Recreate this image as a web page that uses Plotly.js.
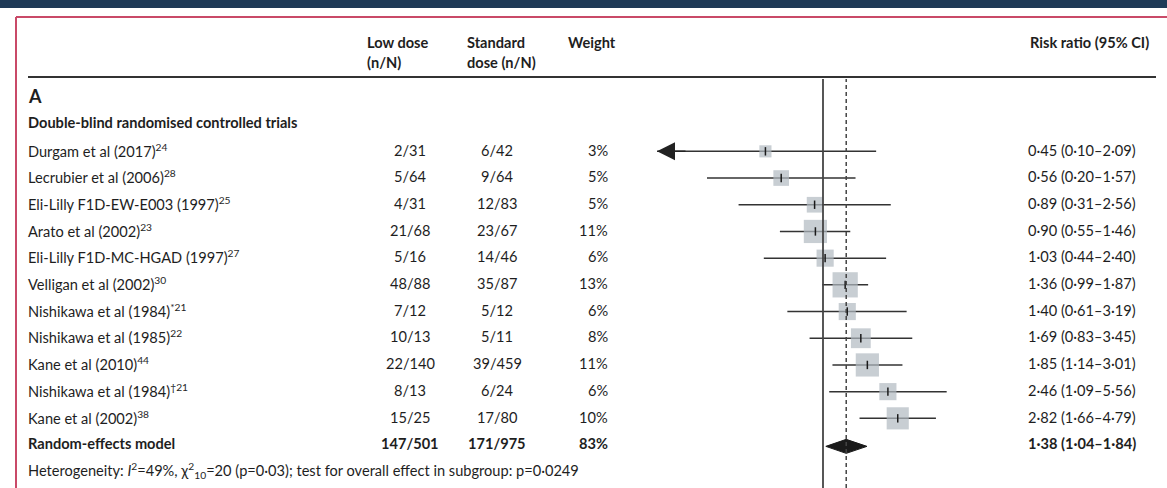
<!DOCTYPE html>
<html>
<head>
<meta charset="utf-8">
<script src="https://cdn.plot.ly/plotly-3.0.1.min.js"></script>
<style>
html,body{margin:0;padding:0;background:#fff;}
#chart{width:1167px;height:488px;}
</style>
</head>
<body>
<div id="chart"></div>
<script>
// ---- data ----
const studies = ['Durgam et al (2017)','Lecrubier et al (2006)','Eli-Lilly F1D-EW-E003 (1997)','Arato et al (2002)','Eli-Lilly F1D-MC-HGAD (1997)','Velligan et al (2002)','Nishikawa et al (1984)','Nishikawa et al (1985)','Kane et al (2010)','Nishikawa et al (1984)','Kane et al (2002)'];
const refs = ['24','28','25','23','27','30','*21','22','44','†21','38'];
const lowDose = ['2/31','5/64','4/31','21/68','5/16','48/88','7/12','10/13','22/140','8/13','15/25'];
const stdDose = ['6/42','9/64','12/83','23/67','14/46','35/87','5/12','5/11','39/459','6/24','17/80'];
const weights = [3,5,5,11,6,13,6,8,11,6,10];
const rr = [0.45,0.56,0.89,0.90,1.03,1.36,1.40,1.69,1.85,2.46,2.82];
const ciLo = [0.10,0.20,0.31,0.55,0.44,0.99,0.61,0.83,1.14,1.09,1.66];
const ciHi = [2.09,1.57,2.56,1.46,2.40,1.87,3.19,3.45,3.01,5.56,4.79];
const pooledLabel = 'Random-effects model';
const pooledLow = '147/501';
const pooledStd = '171/975';
const pooledWeight = 83;
const pooledRR = 1.38, pooledLo = 1.04, pooledHi = 1.84;
const heterogeneity = 'Heterogeneity: <i>I</i><sup>2</sup>=49%, χ<sup>2</sup><sub>10</sub>=20 (p=0·03); test for overall effect in subgroup: p=0·0249';
const headers = {low:['Low dose','(n/N)'], std:['Standard','dose (n/N)'], w:'Weight', rr:'Risk ratio (95% CI)'};
const sectionLabel = 'A';
const groupLabel = 'Double-blind randomised controlled trials';

// ---- layout constants (pixels) ----
const W = 1167, H = 488;
const row0 = 150, rowH = 26.7;     // pixel y of first study row, row spacing
const x1px = 823, decade = 166;    // pixel of RR=1, pixels per decade
const FONT = 'Lato, "Open Sans", sans-serif';
const FS = 14.6;
const TXT = '#1e1e1e';
const fmt = v => v.toFixed(2).replace('.', '·');
const px = p => p / W;
const rowOf = p => (p - row0) / rowH;

const n = studies.length;
const rows = studies.map((_, i) => i);
const pooledRow = n;
const hetRow = n + 1;

// ---- traces ----
const traces = [];
const lx = [], ly = [];
for (let i = 0; i < n; i++) { lx.push(ciLo[i], ciHi[i], null); ly.push(rows[i] + 0.05, rows[i] + 0.05, null); }
traces.push({type:'scatter', mode:'lines', x:lx, y:ly, line:{color:'#333', width:1.5}, hoverinfo:'skip', showlegend:false});
traces.push({type:'scatter', mode:'markers', x:rr, y:rows.map(r => r + 0.05),
  marker:{symbol:'square', size:weights.map(w => 7 * Math.sqrt(w)), color:'#b0b9c0', line:{width:0}},
  hoverinfo:'skip', showlegend:false});
traces.push({type:'scatter', mode:'markers', x:rr, y:rows.map(r => r + 0.05),
  marker:{symbol:'line-ns', size:6, line:{color:'#1a1a1a', width:1.5}}, hoverinfo:'skip', showlegend:false});
const dh = 7 / rowH;
traces.push({type:'scatter', mode:'lines', fill:'toself', fillcolor:'#1a1a1a',
  x:[pooledLo, pooledRR, pooledHi, pooledRR, pooledLo],
  y:[pooledRow + 0.1, pooledRow + 0.1 - dh, pooledRow + 0.1, pooledRow + 0.1 + dh, pooledRow + 0.1],
  line:{color:'#1a1a1a', width:1}, hoverinfo:'skip', showlegend:false});

// ---- annotations ----
const ann = [];
function t(text, xp, row, anchor, opts) {
  ann.push(Object.assign({text:text, x:px(xp), xref:'paper', y:row, yref:'y', xanchor:anchor, yanchor:'middle',
    showarrow:false, borderpad:0, font:{family:FONT, size:FS, color:TXT}}, opts || {}));
}
const L = 27;
const hy1 = rowOf(42), hy2 = rowOf(62);
t('<b>' + headers.low[0] + '</b>', 366, hy1, 'left');
t('<b>' + headers.low[1] + '</b>', 366, hy2, 'left');
t('<b>' + headers.std[0] + '</b>', 466, hy1, 'left');
t('<b>' + headers.std[1] + '</b>', 466, hy2, 'left');
t('<b>' + headers.w + '</b>', 567, hy1, 'left');
t('<b>' + headers.rr + '</b>', 1029, hy1, 'left');
t('<b>' + sectionLabel + '</b>', L, rowOf(96), 'left', {font:{family:FONT, size:18, color:TXT}});
t('<b>' + groupLabel + '</b>', L, rowOf(122.5), 'left');
for (let i = 0; i < n; i++) {
  t(studies[i] + '<sup>' + refs[i] + '</sup>', L, rows[i], 'left');
  t(lowDose[i], 410, rows[i], 'center');
  t(stdDose[i], 497, rows[i], 'center');
  t(weights[i] + '%', 609, rows[i], 'right');
  t(fmt(rr[i]) + ' (' + fmt(ciLo[i]) + '–' + fmt(ciHi[i]) + ')', 1027, rows[i], 'left');
}
t('<b>' + pooledLabel + '</b>', L, pooledRow, 'left');
t('<b>' + pooledLow + '</b>', 410, pooledRow, 'center');
t('<b>' + pooledStd + '</b>', 497, pooledRow, 'center');
t('<b>' + pooledWeight + '%</b>', 609, pooledRow, 'right');
t('<b>' + fmt(pooledRR) + ' (' + fmt(pooledLo) + '–' + fmt(pooledHi) + ')</b>', 1027, pooledRow, 'left');
t(heterogeneity, L, hetRow, 'left');
// truncated CI arrow (Durgam, lower limit at edge of scale); log axis annotations take log10 values
ann.push({x:Math.log10(ciLo[0]), y:rows[0] + 0.05, xref:'x', yref:'y', ax:30, ay:0, text:'', showarrow:true,
  arrowhead:2, arrowsize:2.4, arrowwidth:1.5, arrowcolor:'#222'});

// ---- shapes ----
const shapes = [
  {type:'rect', xref:'paper', yref:'paper', x0:0, x1:1, y0:1 - 8 / H, y1:1, fillcolor:'#1f3a57', line:{width:0}, layer:'below'},
  {type:'line', xref:'paper', yref:'paper', x0:px(16), x1:1, y0:1 - 17 / H, y1:1 - 17 / H, line:{color:'#c94a68', width:2}},
  {type:'line', xref:'paper', yref:'paper', x0:px(16), x1:px(16), y0:0, y1:1 - 17 / H, line:{color:'#c94a68', width:2}},
  {type:'line', xref:'paper', yref:'paper', x0:px(28), x1:px(1156), y0:1 - 77 / H, y1:1 - 77 / H, line:{color:'#333', width:2}},
  {type:'line', xref:'x', yref:'paper', x0:1, x1:1, y0:0, y1:1 - 79 / H, line:{color:'#444', width:1.8}},
  {type:'line', xref:'x', yref:'paper', x0:pooledRR, x1:pooledRR, y0:0, y1:1 - 79 / H, line:{color:'#444', width:1.5, dash:'4px,3px'}}
];

const layout = {
  width:W, height:H, margin:{l:0, r:0, t:0, b:0},
  paper_bgcolor:'#fff', plot_bgcolor:'rgba(0,0,0,0)',
  xaxis:{type:'log', range:[(0 - x1px) / decade, (W - x1px) / decade], visible:false, fixedrange:true},
  yaxis:{range:[rowOf(H), rowOf(0)], visible:false, fixedrange:true},
  showlegend:false, annotations:ann, shapes:shapes, font:{family:FONT}
};
Plotly.newPlot('chart', traces, layout, {displayModeBar:false, staticPlot:true});
</script>
</body>
</html>
